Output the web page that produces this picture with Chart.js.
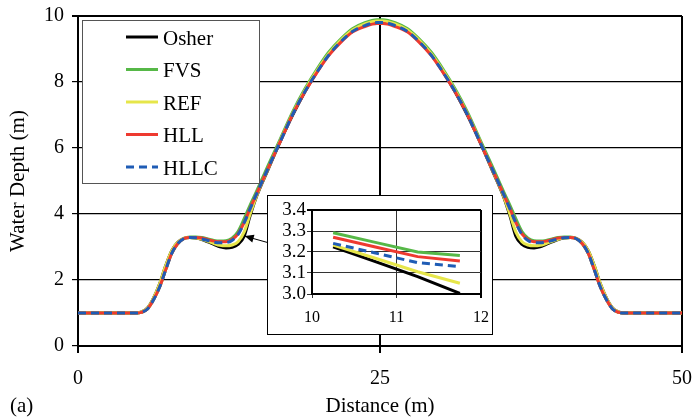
<!DOCTYPE html>
<html>
<head>
<meta charset="utf-8">
<title>Water depth profiles</title>
<script src="https://cdn.jsdelivr.net/npm/chart.js@4.4.0/dist/chart.umd.min.js"></script>
<style>
    html, body { margin: 0; padding: 0; background: #fff; }
    #wrap { position: relative; width: 695px; height: 419px; }
    #depth-chart { position: absolute; left: 0; top: 0; }
    #zoom-box {
        position: absolute; left: 267px; top: 195px;
        width: 224px; height: 138px;
        border: 1px solid #000; background: #fff;
    }
    #zoom-chart { position: absolute; left: 0; top: 0; }
</style>
</head>
<body>
<div id="wrap">
    <canvas id="depth-chart" width="695" height="419"></canvas>
    <div id="zoom-box"><canvas id="zoom-chart" width="224" height="138"></canvas></div>
</div>
<script>
// Cell centres along the channel (m)
const distance = [0, 4.25, 4.75, 5.25, 5.75, 6.25, 6.75, 7.25, 7.75, 8.25, 8.75, 9.25, 9.75,
    10.25, 10.75, 11.25, 11.75, 12.25, 12.75, 13.25, 13.75, 14.25, 14.75, 15.75, 16.75, 17.75,
    18.75, 19.75, 20.75, 21.75, 22.75, 23.75, 24.75,
    25.25, 26.25, 27.25, 28.25, 29.25, 30.25, 31.25, 32.25, 33.25, 34.25, 35.25, 35.75, 36.25,
    36.75, 37.25, 37.75, 38.25, 38.75, 39.25, 39.75, 40.25, 40.75, 41.25, 41.75, 42.25, 42.75,
    43.25, 43.75, 44.25, 44.75, 45.25, 45.75, 50];

// Water depth (m) for each flux scheme
const osherDepth = [1.00, 1.00, 1.00, 1.03, 1.15, 1.45, 1.88, 2.42, 2.88, 3.14, 3.26, 3.29, 3.27,
    3.225, 3.154, 3.083, 3.003, 2.97, 2.99, 3.08, 3.32, 3.95, 4.50, 5.36, 6.20, 6.98,
    7.68, 8.30, 8.83, 9.24, 9.56, 9.74, 9.83,
    9.83, 9.74, 9.56, 9.24, 8.83, 8.30, 7.68, 6.98, 6.20, 5.36, 4.50, 3.95, 3.32,
    3.08, 2.99, 2.97, 3.003, 3.083, 3.154, 3.225, 3.27, 3.29, 3.26, 3.14, 2.88, 2.42,
    1.88, 1.45, 1.15, 1.03, 1.00, 1.00, 1.00];
const fvsDepth = [1.00, 1.00, 1.00, 1.02, 1.12, 1.40, 1.78, 2.30, 2.80, 3.10, 3.25, 3.30, 3.30,
    3.292, 3.246, 3.200, 3.183, 3.19, 3.27, 3.47, 3.85, 4.27, 4.66, 5.48, 6.28, 7.08,
    7.77, 8.37, 8.90, 9.30, 9.62, 9.80, 9.89,
    9.89, 9.80, 9.62, 9.30, 8.90, 8.37, 7.77, 7.08, 6.28, 5.48, 4.66, 4.27, 3.85,
    3.47, 3.27, 3.19, 3.183, 3.200, 3.246, 3.292, 3.30, 3.30, 3.25, 3.10, 2.80, 2.30,
    1.78, 1.40, 1.12, 1.02, 1.00, 1.00, 1.00];
const refDepth = [1.00, 1.00, 1.00, 1.03, 1.15, 1.45, 1.88, 2.42, 2.88, 3.14, 3.26, 3.29, 3.27,
    3.233, 3.170, 3.106, 3.051, 3.035, 3.06, 3.16, 3.45, 4.00, 4.52, 5.38, 6.22, 7.02,
    7.72, 8.32, 8.85, 9.26, 9.58, 9.76, 9.85,
    9.85, 9.76, 9.58, 9.26, 8.85, 8.32, 7.72, 7.02, 6.22, 5.38, 4.52, 4.00, 3.45,
    3.16, 3.06, 3.035, 3.051, 3.106, 3.170, 3.233, 3.27, 3.29, 3.26, 3.14, 2.88, 2.42,
    1.88, 1.45, 1.15, 1.03, 1.00, 1.00, 1.00];
const hllDepth = [1.00, 1.00, 1.00, 1.02, 1.12, 1.40, 1.78, 2.30, 2.80, 3.10, 3.25, 3.29, 3.29,
    3.270, 3.224, 3.178, 3.157, 3.16, 3.23, 3.40, 3.74, 4.17, 4.58, 5.40, 6.20, 7.00,
    7.68, 8.27, 8.80, 9.20, 9.52, 9.68, 9.77,
    9.77, 9.68, 9.52, 9.20, 8.80, 8.27, 7.68, 7.00, 6.20, 5.40, 4.58, 4.17, 3.74,
    3.40, 3.23, 3.16, 3.157, 3.178, 3.224, 3.270, 3.29, 3.29, 3.25, 3.10, 2.80, 2.30,
    1.78, 1.40, 1.12, 1.02, 1.00, 1.00, 1.00];
const hllcDepth = [1.00, 1.00, 1.00, 1.02, 1.12, 1.40, 1.78, 2.30, 2.80, 3.10, 3.25, 3.29, 3.28,
    3.241, 3.195, 3.149, 3.130, 3.135, 3.20, 3.38, 3.73, 4.16, 4.58, 5.40, 6.20, 7.00,
    7.69, 8.28, 8.81, 9.22, 9.54, 9.71, 9.80,
    9.80, 9.71, 9.54, 9.22, 8.81, 8.28, 7.69, 7.00, 6.20, 5.40, 4.58, 4.16, 3.73,
    3.38, 3.20, 3.135, 3.130, 3.149, 3.195, 3.241, 3.28, 3.29, 3.25, 3.10, 2.80, 2.30,
    1.78, 1.40, 1.12, 1.02, 1.00, 1.00, 1.00];

const schemeNames = ['Osher', 'FVS', 'REF', 'HLL', 'HLLC'];
const depthSeries = [osherDepth, fvsDepth, refDepth, hllDepth, hllcDepth];

// Axis ticks
const distanceTicks = [0, 25, 50];
const depthTicks = [0, 2, 4, 6, 8, 10];
const zoomDistanceTicks = [10, 11, 12];
const zoomDepthTicks = [3.0, 3.1, 3.2, 3.3, 3.4];

// Arrow from the close-up to the dip it shows (data units)
const arrowFrom = { x: 15.75, y: 3.13 };
const arrowTo = { x: 13.8, y: 3.33 };

const SERIF = "'Liberation Serif', 'Times New Roman', serif";
const COLORS = ['#000000', '#56b847', '#e6e64a', '#ee3a30', '#1f5cb5'];
const DASHES = [[], [], [], [], [8, 5]];

function buildDatasets(minX, maxX, smooth) {
    return schemeNames.map((name, i) => ({
        label: name,
        data: distance
            .map((d, k) => ({ x: d, y: depthSeries[i][k] }))
            .filter(p => p.x >= minX && p.x <= maxX),
        borderColor: COLORS[i],
        backgroundColor: COLORS[i],
        borderWidth: 3,
        borderDash: DASHES[i],
        pointRadius: 0,
        fill: false,
        tension: 0,
        cubicInterpolationMode: smooth ? 'monotone' : 'default',
        order: schemeNames.length - i
    }));
}

function fixedTicks(values) {
    return scale => { scale.ticks = values.map(v => ({ value: v })); };
}

// Legend box drawn inside the plot area
const boxLegend = {
    id: 'boxLegend',
    afterDraw(chart) {
        const ctx = chart.ctx;
        const x = 82, y = 20, w = 177, h = 163;
        ctx.save();
        ctx.fillStyle = '#fff';
        ctx.fillRect(x, y, w, h);
        ctx.strokeStyle = '#555';
        ctx.lineWidth = 1;
        ctx.strokeRect(x + 0.5, y + 0.5, w, h);
        ctx.font = '21px ' + SERIF;
        ctx.textBaseline = 'middle';
        chart.data.datasets.forEach((ds, i) => {
            const ry = 37 + i * 32.5;
            ctx.strokeStyle = ds.borderColor;
            ctx.lineWidth = 3;
            ctx.setLineDash(ds.borderDash);
            ctx.beginPath();
            ctx.moveTo(126, ry);
            ctx.lineTo(158, ry);
            ctx.stroke();
            ctx.setLineDash([]);
            ctx.fillStyle = '#000';
            ctx.fillText(ds.label, 163, ry + 2);
        });
        ctx.fillText('(a)', 10, 406);
        ctx.restore();
    }
};

// Pointer from the close-up panel to the dip on the left hump
const dipArrow = {
    id: 'dipArrow',
    afterDatasetsDraw(chart) {
        const xs = chart.scales.x, ys = chart.scales.y;
        const x0 = xs.getPixelForValue(arrowFrom.x), y0 = ys.getPixelForValue(arrowFrom.y);
        const x1 = xs.getPixelForValue(arrowTo.x), y1 = ys.getPixelForValue(arrowTo.y);
        const a = Math.atan2(y1 - y0, x1 - x0);
        const ctx = chart.ctx;
        ctx.save();
        ctx.strokeStyle = '#000';
        ctx.fillStyle = '#000';
        ctx.lineWidth = 1;
        ctx.beginPath();
        ctx.moveTo(x0, y0);
        ctx.lineTo(x1, y1);
        ctx.stroke();
        ctx.beginPath();
        ctx.moveTo(x1, y1);
        ctx.lineTo(x1 - 9 * Math.cos(a) + 4 * Math.sin(a), y1 - 9 * Math.sin(a) - 4 * Math.cos(a));
        ctx.lineTo(x1 - 9 * Math.cos(a) - 4 * Math.sin(a), y1 - 9 * Math.sin(a) + 4 * Math.cos(a));
        ctx.closePath();
        ctx.fill();
        ctx.restore();
    }
};

Chart.defaults.font.family = SERIF;
Chart.defaults.color = '#000';

// Tick padding also widens the plot margins in Chart.js, so labels are
// pushed off the axis with a tall line height instead.
new Chart(document.getElementById('depth-chart'), {
    type: 'line',
    data: { datasets: buildDatasets(0, 50, true) },
    options: {
        responsive: false,
        animation: false,
        layout: { padding: { left: 0, right: 13, top: 16, bottom: 0 } },
        plugins: { legend: { display: false }, tooltip: { enabled: false } },
        scales: {
            x: {
                type: 'linear',
                min: 0, max: 50,
                afterBuildTicks: fixedTicks(distanceTicks),
                afterFit: s => { s.height = 73; },
                grid: { color: '#000', lineWidth: 2, tickLength: 7 },
                border: { color: '#000', width: 2 },
                ticks: { font: { size: 20, lineHeight: 2.6 }, padding: 0, maxRotation: 0, autoSkip: false },
                title: { display: true, text: 'Distance (m)', font: { size: 21 }, padding: { top: 0, bottom: 0 } }
            },
            y: {
                min: 0, max: 10,
                afterBuildTicks: fixedTicks(depthTicks),
                afterFit: s => { s.width = 78; },
                grid: { color: '#000', lineWidth: c => (c.tick && c.tick.value === 10 ? 2 : 1.2), tickLength: 6 },
                border: { color: '#000', width: 2 },
                ticks: { font: { size: 20, lineHeight: 0.8 }, padding: 8, autoSkip: false },
                title: { display: true, text: 'Water Depth (m)', font: { size: 21 }, padding: { top: 6, bottom: 0 } }
            }
        }
    },
    plugins: [dipArrow, boxLegend]
});

new Chart(document.getElementById('zoom-chart'), {
    type: 'line',
    data: { datasets: buildDatasets(10, 12, false) },
    options: {
        responsive: false,
        animation: false,
        layout: { padding: { left: 0, right: 11, top: 14, bottom: 0 } },
        plugins: { legend: { display: false }, tooltip: { enabled: false } },
        scales: {
            x: {
                type: 'linear',
                min: 10, max: 12,
                afterBuildTicks: fixedTicks(zoomDistanceTicks),
                afterFit: s => { s.height = 40; },
                grid: { color: c => (c.tick && c.tick.value === 12 ? '#000' : '#333'), lineWidth: c => (c.tick && c.tick.value === 12 ? 2 : 1), tickLength: 4 },
                border: { color: '#000', width: 2 },
                ticks: { font: { size: 16, lineHeight: 2.5 }, padding: 0, maxRotation: 0, autoSkip: false }
            },
            y: {
                min: 3.0, max: 3.4,
                afterBuildTicks: fixedTicks(zoomDepthTicks),
                afterFit: s => { s.width = 44; },
                grid: { color: c => (c.tick && c.tick.value > 3.35 ? '#000' : '#333'), lineWidth: c => (c.tick && c.tick.value > 3.35 ? 2 : 1), tickLength: 5 },
                border: { color: '#000', width: 2 },
                ticks: { font: { size: 19, lineHeight: 1 }, padding: 1, autoSkip: false, callback: v => v.toFixed(1) }
            }
        }
    }
});
</script>
</body>
</html>
